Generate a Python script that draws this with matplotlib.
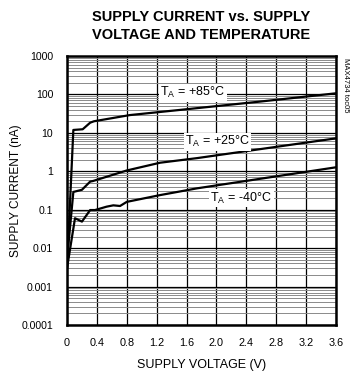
import matplotlib
matplotlib.use("Agg")
import matplotlib.pyplot as plt
from matplotlib.ticker import LogLocator, NullFormatter

plt.rcParams.update({
    "font.family": ["Liberation Sans", "DejaVu Sans"],
    "mathtext.fontset": "custom",
    "mathtext.rm": "Liberation Sans",
    "mathtext.it": "Liberation Sans",
})

# ── Data ──────────────────────────────────────────────────────────────────────
v_85 = [0.0, 0.085, 0.21, 0.31, 0.36, 0.84, 1.51, 2.58, 3.6]
i_85 = [0.003, 11.9, 12.4, 18.4, 20.0, 29.0, 39.5, 65.0, 107.0]

v_25 = [0.0, 0.085, 0.2, 0.31, 0.35, 0.8, 1.245, 1.74, 3.6]
i_25 = [0.005, 0.29, 0.33, 0.54, 0.56, 1.05, 1.67, 2.2, 7.2]

v_m40 = [0.0, 0.107, 0.2, 0.31, 0.375, 0.53, 0.62, 0.71, 0.8, 1.245, 1.74, 3.6]
i_m40 = [0.003, 0.06, 0.049, 0.098, 0.098, 0.12, 0.13, 0.125, 0.16, 0.24, 0.36, 1.27]

x_ticks = [0, 0.4, 0.8, 1.2, 1.6, 2.0, 2.4, 2.8, 3.2, 3.6]
x_labels = ["0", "0.4", "0.8", "1.2", "1.6", "2.0", "2.4", "2.8", "3.2", "3.6"]
y_ticks = [0.0001, 0.001, 0.01, 0.1, 1, 10, 100, 1000]
y_labels = ["0.0001", "0.001", "0.01", "0.1", "1", "10", "100", "1000"]

labels = ["T$_\\mathrm{A}$ = +85°C", "T$_\\mathrm{A}$ = +25°C", "T$_\\mathrm{A}$ = -40°C"]
label_pos = [(1.25, 110.0), (1.58, 5.9), (1.92, 0.2)]

# ── Figure ────────────────────────────────────────────────────────────────────
fig = plt.figure(figsize=(3.58, 3.75), dpi=100)
ax = fig.add_axes([67 / 358, 1 - 325 / 375, 269 / 358, 269 / 375])

ax.set_yscale("log")
ax.set_xlim(0, 3.6)
ax.set_ylim(0.0001, 1000)

ax.set_xticks(x_ticks)
ax.set_xticklabels(x_labels)
ax.set_yticks(y_ticks)
ax.set_yticklabels(y_labels)
ax.yaxis.set_minor_locator(LogLocator(base=10, subs=range(2, 10)))
ax.yaxis.set_minor_formatter(NullFormatter())

ax.grid(True, which="major", axis="both", color="black", linewidth=0.9)
ax.grid(True, which="minor", axis="y", color="#8a8a8a", linewidth=0.7)
ax.tick_params(which="both", length=0, labelsize=7.8, pad=9)
ax.tick_params(axis="y", labelsize=7.6, pad=10)

for s in ax.spines.values():
    s.set_linewidth(1.8)
    s.set_color("black")

for v, i in [(v_85, i_85), (v_25, i_25), (v_m40, i_m40)]:
    ax.plot(v, i, color="black", linewidth=1.6, zorder=3)

for txt, (x, y) in zip(labels, label_pos):
    ax.text(x, y, txt, ha="left", va="center", fontsize=9, zorder=4,
            bbox=dict(facecolor="white", edgecolor="none", pad=1.0))

ax.set_xlabel("SUPPLY VOLTAGE (V)", fontsize=9, labelpad=8)
ax.set_ylabel("SUPPLY CURRENT (nA)", fontsize=8.6)
ax.yaxis.set_label_coords(-0.167, 0.5)

fig.text(201 / 358, 1 - 26 / 375, "SUPPLY CURRENT vs. SUPPLY\nVOLTAGE AND TEMPERATURE",
         ha="center", va="center", fontsize=10.5, fontweight="bold", linespacing=1.35)
fig.text(345 / 358, 1 - 58 / 375, "MAX4734 toc05", rotation=-90,
         ha="center", va="top", fontsize=5.5)

fig.savefig("out.png", dpi=100)
